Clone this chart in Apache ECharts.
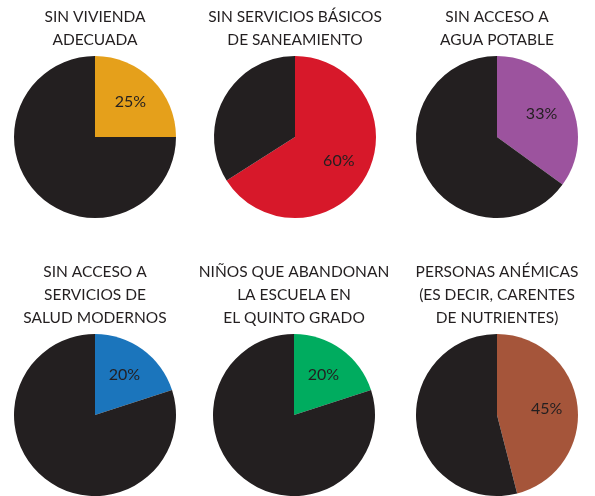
<!DOCTYPE html>
<html>
<head>
<meta charset="utf-8">
<script src="https://cdn.jsdelivr.net/npm/echarts@6/dist/echarts.min.js"></script>
<style>
  html, body { margin: 0; padding: 0; background: #fff; }
  #main { width: 595px; height: 496px; }
</style>
</head>
<body>
<div id="main"></div>
<script>
var titles = [
    'SIN VIVIENDA\nADECUADA',
    'SIN SERVICIOS BÁSICOS\nDE SANEAMIENTO',
    'SIN ACCESO A\nAGUA POTABLE',
    'SIN ACCESO A\nSERVICIOS DE\nSALUD MODERNOS',
    'NIÑOS QUE ABANDONAN\nLA ESCUELA EN\nEL QUINTO GRADO',
    'PERSONAS ANÉMICAS\n(ES DECIR, CARENTES\nDE NUTRIENTES)'
];
// share of the coloured slice as drawn, and the printed label
var shares = [25, 66, 35, 20, 20, 46];
var labels = ['25%', '60%', '33%', '20%', '20%', '45%'];
var colors = ['#e5a01b', '#d7182a', '#9c539e', '#1b75bc', '#00ac5f', '#a5553a'];

var dark = '#231f20';
var centers = [[95, 137], [295, 137], [497, 137], [95, 415], [294, 415], [497, 415]];
var titleTops = [5, 5, 5, 260, 260, 260];

var chart = echarts.init(document.getElementById('main'));

var titleList = [];
var seriesList = [];
for (var i = 0; i < titles.length; i++) {
    titleList.push({
        text: titles[i],
        left: centers[i][0],
        top: titleTops[i],
        textAlign: 'center',
        padding: 0,
        textStyle: {
            fontFamily: 'Lato',
            fontWeight: 'normal',
            fontSize: 15.5,
            lineHeight: 23,
            color: dark
        }
    });
    var pieData = [
        { value: shares[i], name: labels[i], itemStyle: { color: colors[i] } },
        { value: 100 - shares[i], name: 'resto', itemStyle: { color: dark } }
    ];
    // the pie itself
    seriesList.push({
        type: 'pie',
        center: centers[i],
        radius: 81,
        startAngle: 90,
        silent: true,
        itemStyle: { borderWidth: 0 },
        label: { show: false },
        labelLine: { show: false },
        data: pieData
    });
    // transparent copy, only to place the label a bit further out
    seriesList.push({
        type: 'pie',
        center: centers[i],
        radius: 94,
        startAngle: 90,
        silent: true,
        z: 3,
        itemStyle: { color: 'rgba(0,0,0,0)', borderWidth: 0 },
        labelLine: { show: false },
        data: [
            {
                value: shares[i],
                name: labels[i],
                label: {
                    show: true,
                    position: 'inside',
                    formatter: '{b}',
                    fontFamily: 'Lato',
                    fontSize: 16,
                    color: dark
                }
            },
            { value: 100 - shares[i], name: 'resto', label: { show: false } }
        ]
    });
}

chart.setOption({
    animation: false,
    backgroundColor: '#fff',
    title: titleList,
    series: seriesList
});
</script>
</body>
</html>
